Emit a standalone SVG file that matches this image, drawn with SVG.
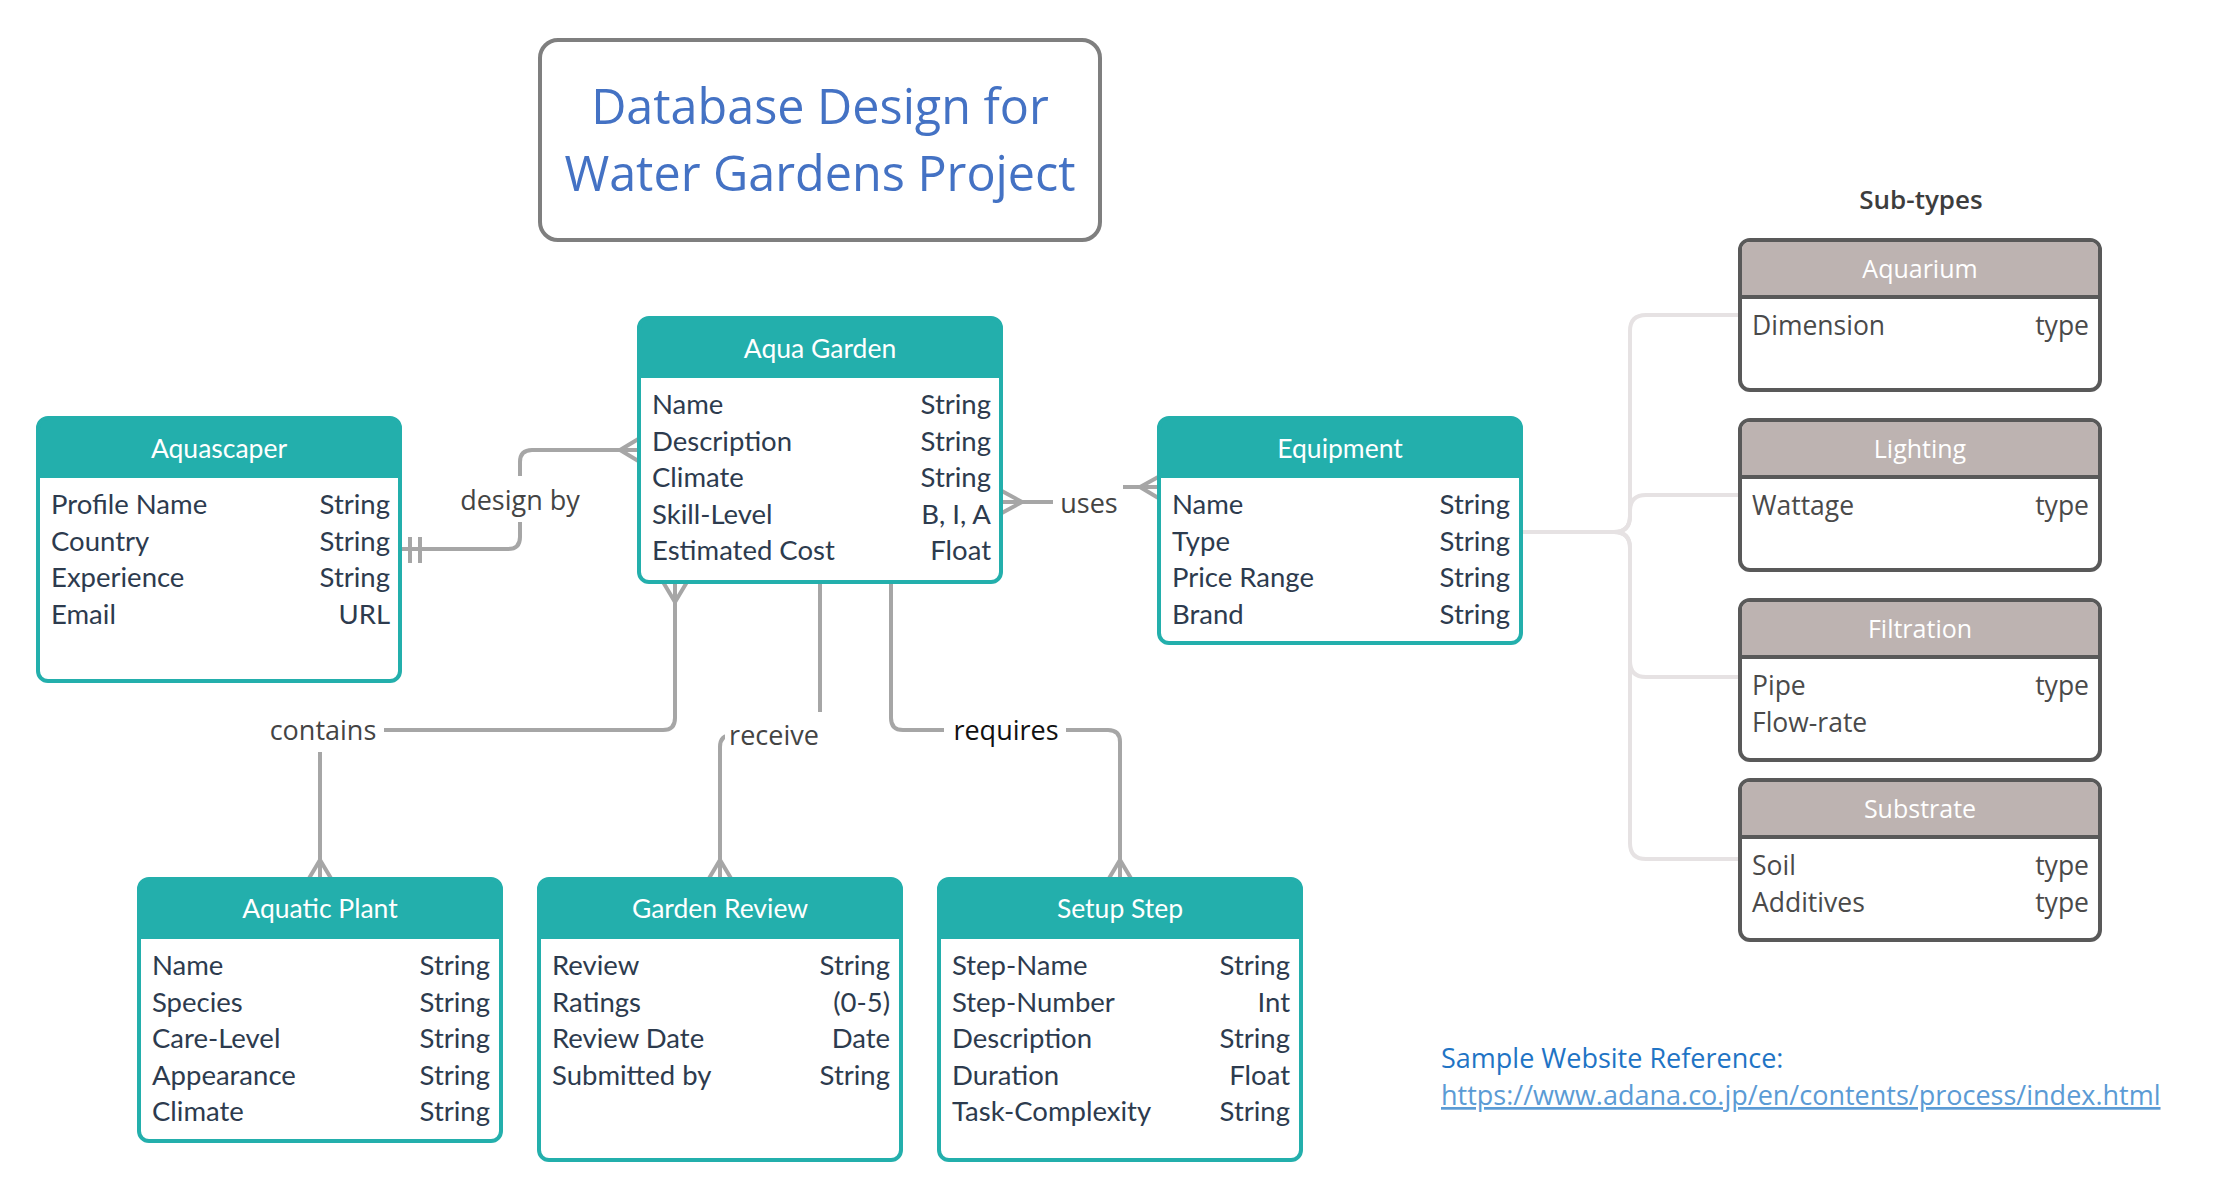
<svg xmlns="http://www.w3.org/2000/svg" width="2240" height="1200" viewBox="0 0 2240 1200">
<style>
.hdr{fill:#23afac}
.box{fill:none;stroke:#23afac;stroke-width:4}
.body{fill:#ffffff}
.ht{font-family:Lato,"Liberation Sans",sans-serif;font-size:26.5px;fill:#ffffff;text-anchor:middle}
.rt{font-family:Lato,"Liberation Sans",sans-serif;font-size:27.5px;fill:#2d3b4e}
.rr{text-anchor:end}
.sbox{fill:#ffffff;stroke:#595959;stroke-width:4}
.shdr{fill:#bdb3b1}
.sht{font-family:"Open Sans","Noto Sans",sans-serif;font-size:25px;fill:#ffffff;text-anchor:middle}
.st{font-family:"Open Sans","Noto Sans",sans-serif;font-size:26.5px;fill:#4a4a4a}
.con{fill:none;stroke:#a6a6a6;stroke-width:4}
.tree{fill:none;stroke:#e6e2e3;stroke-width:4}
.lbl{font-family:"Open Sans","Noto Sans",sans-serif;font-size:27px;fill:#444444;text-anchor:middle}
.lbg{fill:#ffffff}
</style>

<g id="title">
<rect x="540" y="40" width="560" height="200" rx="18" fill="#ffffff" stroke="#7f7f7f" stroke-width="4"/>
<text x="820" y="124" font-family="'Open Sans','Noto Sans',sans-serif" font-size="48.5" fill="#4472c4" text-anchor="middle">Database Design for</text>
<text x="820" y="191" font-family="'Open Sans','Noto Sans',sans-serif" font-size="48.5" fill="#4472c4" text-anchor="middle">Water Gardens Project</text>
</g>

<g id="connectors">
<!-- design by -->
<path class="con" d="M401,549 H508 Q520,549 520,537 V462 Q520,450 532,450 H640"/>
<path class="con" d="M410,537 V563 M420,537 V563"/>
<path class="con" d="M640,438 L620,450 L640,462"/>
<!-- uses -->
<path class="con" d="M1000,502 H1080 V487 H1160"/>
<path class="con" d="M1000,490 L1022,502 L1000,514"/>
<path class="con" d="M1160,476 L1140,487 L1160,499"/>
<!-- contains -->
<path class="con" d="M675,582 V718 Q675,730 663,730 H332 Q320,730 320,742 V880"/>
<path class="con" d="M663,582 L675,602 L687,582"/>
<path class="con" d="M308,880 L320,860 L332,880"/>
<!-- receive -->
<path class="con" d="M820,582 V723 Q820,735 808,735 H732 Q720,735 720,747 V880"/>
<path class="con" d="M708,880 L720,860 L732,880"/>
<!-- requires -->
<path class="con" d="M891,582 V718 Q891,730 903,730 H1108 Q1120,730 1120,742 V880"/>
<path class="con" d="M1108,880 L1120,860 L1132,880"/>
<!-- sub-type tree -->
<path class="tree" d="M1520,532 H1614 Q1630,532 1630,516 V331 Q1630,315 1646,315 H1740"/>
<path class="tree" d="M1520,532 H1614 Q1630,532 1630,516 V511 Q1630,495 1646,495 H1740"/>
<path class="tree" d="M1520,532 H1614 Q1630,532 1630,548 V661 Q1630,677 1646,677 H1740"/>
<path class="tree" d="M1520,532 H1614 Q1630,532 1630,548 V843 Q1630,859 1646,859 H1740"/>
<!-- labels -->
<rect class="lbg" x="456" y="476" width="128" height="46"/>
<text class="lbl" x="520" y="510">design by</text>
<rect class="lbg" x="1053" y="480" width="70" height="42"/>
<text class="lbl" x="1089" y="513">uses</text>
<rect class="lbg" x="262" y="712" width="122" height="40"/>
<text class="lbl" x="323" y="740">contains</text>
<rect class="lbg" x="725" y="712" width="98" height="40"/>
<text class="lbl" x="774" y="745">receive</text>
<rect class="lbg" x="944" y="712" width="122" height="40"/>
<text class="lbl" x="1006" y="740" style="fill:#111111">requires</text>
</g>

<g id="aquascaper">
<rect class="body" x="38" y="418" width="362" height="263" rx="10"/>
<path class="hdr" d="M38,478 V428 Q38,418 48,418 H390 Q400,418 400,428 V478 Z"/>
<rect class="box" x="38" y="418" width="362" height="263" rx="10"/>
<text class="ht" x="219" y="458">Aquascaper</text>
<text class="rt" x="51" y="514">Profile Name</text><text class="rt rr" x="390" y="514">String</text>
<text class="rt" x="51" y="550.5">Country</text><text class="rt rr" x="390" y="550.5">String</text>
<text class="rt" x="51" y="587">Experience</text><text class="rt rr" x="390" y="587">String</text>
<text class="rt" x="51" y="623.5">Email</text><text class="rt rr" x="390" y="623.5">URL</text>
</g>

<g id="aqua-garden">
<rect class="body" x="639" y="318" width="362" height="264" rx="10"/>
<path class="hdr" d="M639,378 V328 Q639,318 649,318 H991 Q1001,318 1001,328 V378 Z"/>
<rect class="box" x="639" y="318" width="362" height="264" rx="10"/>
<text class="ht" x="820" y="358">Aqua Garden</text>
<text class="rt" x="652" y="414">Name</text><text class="rt rr" x="991" y="414">String</text>
<text class="rt" x="652" y="450.5">Description</text><text class="rt rr" x="991" y="450.5">String</text>
<text class="rt" x="652" y="487">Climate</text><text class="rt rr" x="991" y="487">String</text>
<text class="rt" x="652" y="523.5">Skill-Level</text><text class="rt rr" x="991" y="523.5">B, I, A</text>
<text class="rt" x="652" y="560">Estimated Cost</text><text class="rt rr" x="991" y="560">Float</text>
</g>

<g id="equipment">
<rect class="body" x="1159" y="418" width="362" height="225" rx="10"/>
<path class="hdr" d="M1159,478 V428 Q1159,418 1169,418 H1511 Q1521,418 1521,428 V478 Z"/>
<rect class="box" x="1159" y="418" width="362" height="225" rx="10"/>
<text class="ht" x="1340" y="458">Equipment</text>
<text class="rt" x="1172" y="514">Name</text><text class="rt rr" x="1510" y="514">String</text>
<text class="rt" x="1172" y="550.5">Type</text><text class="rt rr" x="1510" y="550.5">String</text>
<text class="rt" x="1172" y="587">Price Range</text><text class="rt rr" x="1510" y="587">String</text>
<text class="rt" x="1172" y="623.5">Brand</text><text class="rt rr" x="1510" y="623.5">String</text>
</g>

<g id="aquatic-plant">
<rect class="body" x="139" y="879" width="362" height="262" rx="10"/>
<path class="hdr" d="M139,939 V889 Q139,879 149,879 H491 Q501,879 501,889 V939 Z"/>
<rect class="box" x="139" y="879" width="362" height="262" rx="10"/>
<text class="ht" x="320" y="918">Aquatic Plant</text>
<text class="rt" x="152" y="975">Name</text><text class="rt rr" x="490" y="975">String</text>
<text class="rt" x="152" y="1011.5">Species</text><text class="rt rr" x="490" y="1011.5">String</text>
<text class="rt" x="152" y="1048">Care-Level</text><text class="rt rr" x="490" y="1048">String</text>
<text class="rt" x="152" y="1084.5">Appearance</text><text class="rt rr" x="490" y="1084.5">String</text>
<text class="rt" x="152" y="1121">Climate</text><text class="rt rr" x="490" y="1121">String</text>
</g>

<g id="garden-review">
<rect class="body" x="539" y="879" width="362" height="281" rx="10"/>
<path class="hdr" d="M539,939 V889 Q539,879 549,879 H891 Q901,879 901,889 V939 Z"/>
<rect class="box" x="539" y="879" width="362" height="281" rx="10"/>
<text class="ht" x="720" y="918">Garden Review</text>
<text class="rt" x="552" y="975">Review</text><text class="rt rr" x="890" y="975">String</text>
<text class="rt" x="552" y="1011.5">Ratings</text><text class="rt rr" x="890" y="1011.5">(0-5)</text>
<text class="rt" x="552" y="1048">Review Date</text><text class="rt rr" x="890" y="1048">Date</text>
<text class="rt" x="552" y="1084.5">Submitted by</text><text class="rt rr" x="890" y="1084.5">String</text>
</g>

<g id="setup-step">
<rect class="body" x="939" y="879" width="362" height="281" rx="10"/>
<path class="hdr" d="M939,939 V889 Q939,879 949,879 H1291 Q1301,879 1301,889 V939 Z"/>
<rect class="box" x="939" y="879" width="362" height="281" rx="10"/>
<text class="ht" x="1120" y="918">Setup Step</text>
<text class="rt" x="952" y="975">Step-Name</text><text class="rt rr" x="1290" y="975">String</text>
<text class="rt" x="952" y="1011.5">Step-Number</text><text class="rt rr" x="1290" y="1011.5">Int</text>
<text class="rt" x="952" y="1048">Description</text><text class="rt rr" x="1290" y="1048">String</text>
<text class="rt" x="952" y="1084.5">Duration</text><text class="rt rr" x="1290" y="1084.5">Float</text>
<text class="rt" x="952" y="1121">Task-Complexity</text><text class="rt rr" x="1290" y="1121">String</text>
</g>

<g id="subtypes-title">
<text x="1921" y="209" font-family="'Open Sans','Noto Sans',sans-serif" font-size="26" font-weight="600" fill="#3d3d3d" text-anchor="middle">Sub-types</text>
</g>

<g id="aquarium">
<rect class="sbox" x="1740" y="240" width="360" height="150" rx="10"/>
<path class="shdr" d="M1742,297 V250 Q1742,242 1750,242 H2090 Q2098,242 2098,250 V297 Z"/>
<path d="M1740,297 H2100" stroke="#595959" stroke-width="4"/>
<text class="sht" x="1920" y="278">Aquarium</text>
<text class="st" x="1752" y="335">Dimension</text><text class="st rr" x="2089" y="335">type</text>
</g>

<g id="lighting">
<rect class="sbox" x="1740" y="420" width="360" height="150" rx="10"/>
<path class="shdr" d="M1742,477 V430 Q1742,422 1750,422 H2090 Q2098,422 2098,430 V477 Z"/>
<path d="M1740,477 H2100" stroke="#595959" stroke-width="4"/>
<text class="sht" x="1920" y="458">Lighting</text>
<text class="st" x="1752" y="515">Wattage</text><text class="st rr" x="2089" y="515">type</text>
</g>

<g id="filtration">
<rect class="sbox" x="1740" y="600" width="360" height="160" rx="10"/>
<path class="shdr" d="M1742,657 V610 Q1742,602 1750,602 H2090 Q2098,602 2098,610 V657 Z"/>
<path d="M1740,657 H2100" stroke="#595959" stroke-width="4"/>
<text class="sht" x="1920" y="638">Filtration</text>
<text class="st" x="1752" y="695">Pipe</text><text class="st rr" x="2089" y="695">type</text>
<text class="st" x="1752" y="732">Flow-rate</text>
</g>

<g id="substrate">
<rect class="sbox" x="1740" y="780" width="360" height="160" rx="10"/>
<path class="shdr" d="M1742,837 V790 Q1742,782 1750,782 H2090 Q2098,782 2098,790 V837 Z"/>
<path d="M1740,837 H2100" stroke="#595959" stroke-width="4"/>
<text class="sht" x="1920" y="818">Substrate</text>
<text class="st" x="1752" y="875">Soil</text><text class="st rr" x="2089" y="875">type</text>
<text class="st" x="1752" y="912">Additives</text><text class="st rr" x="2089" y="912">type</text>
</g>

<g id="website-reference">
<text x="1441" y="1068" font-family="'Open Sans','Noto Sans',sans-serif" font-size="27" fill="#1f74c5">Sample Website Reference:</text>
<text x="1441" y="1105" font-family="'Open Sans','Noto Sans',sans-serif" font-size="27" fill="#5b9bd5" text-decoration="underline">https://www.adana.co.jp/en/contents/process/index.html</text>
</g>
</svg>
